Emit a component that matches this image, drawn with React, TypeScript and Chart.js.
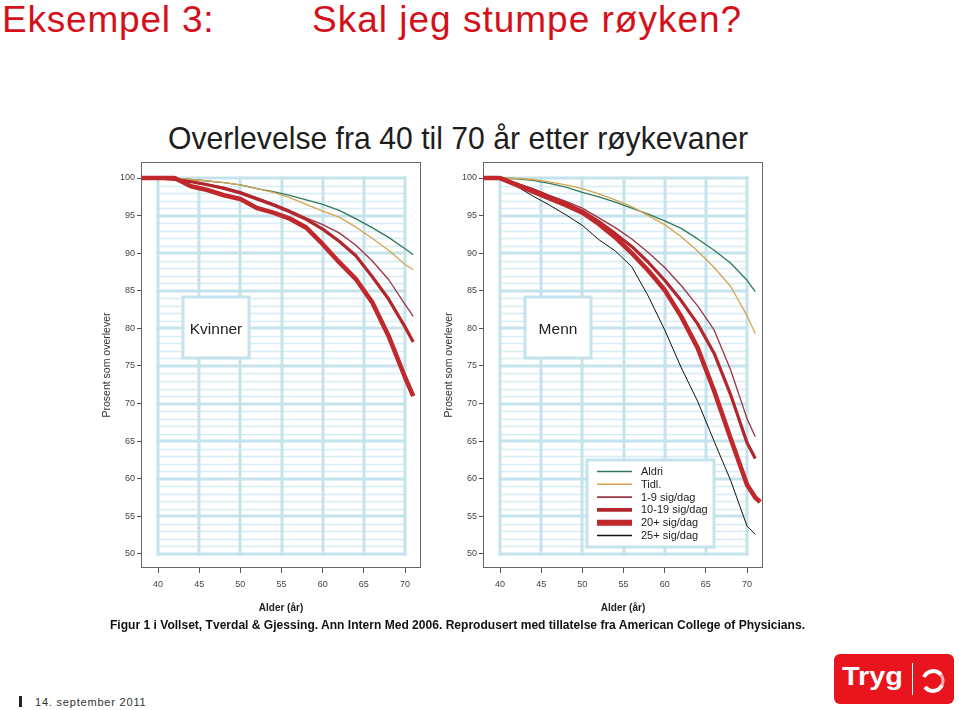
import React, { useEffect, useLayoutEffect, useRef } from "react";
import { Chart, registerables } from "chart.js";

Chart.register(...registerables);

// ---------- data ----------
const AGES = [38, 40, 42, 44, 46, 48, 50, 52, 54, 56, 58, 60, 62, 64, 66, 68, 70, 71, 71.6];
const X_TICKS = [40, 45, 50, 55, 60, 65, 70];
const Y_TICKS = [50, 55, 60, 65, 70, 75, 80, 85, 90, 95, 100];

// Kvinner (women)
const K_ALDRI = [100, 100, 99.9, 99.8, 99.6, 99.4, 99.1, 98.6, 98.2, 97.7, 97.1, 96.5, 95.7, 94.6, 93.4, 92.1, 90.6, 89.8, null];
const K_TIDL = [100, 100, 99.9, 99.8, 99.6, 99.4, 99.1, 98.6, 98.1, 97.4, 96.5, 95.6, 94.8, 93.5, 92.0, 90.4, 88.5, 87.8, null];
const K_1_9 = [100, 100, 99.9, 99.6, 99.2, 98.8, 98.2, 97.4, 96.6, 95.7, 94.7, 93.8, 92.7, 91.1, 89.0, 86.5, 83.2, 81.6, null];
const K_10_19 = [100, 100, 99.8, 99.5, 99.1, 98.6, 98.0, 97.2, 96.4, 95.5, 94.5, 93.2, 91.6, 89.7, 86.9, 83.9, 80.2, 78.2, null];
const K_20 = [100, 100, 100, 98.9, 98.4, 97.7, 97.2, 96.0, 95.4, 94.6, 93.4, 91.2, 88.8, 86.6, 83.5, 79.0, 73.5, 71.0, null];

// Menn (men)
const M_ALDRI = [100, 100, 99.9, 99.7, 99.3, 98.8, 98.1, 97.5, 96.8, 96.0, 95.2, 94.3, 93.3, 91.9, 90.4, 88.7, 86.4, 84.9, null];
const M_TIDL = [100, 100, 99.95, 99.8, 99.5, 99.1, 98.6, 97.9, 97.1, 96.2, 95.0, 93.8, 92.2, 90.3, 88.1, 85.6, 81.7, 79.3, null];
const M_1_9 = [100, 100, 99.3, 98.6, 97.7, 96.9, 96.0, 94.7, 93.4, 91.9, 90.1, 88.1, 85.7, 83.0, 79.8, 74.5, 68.0, 65.6, null];
const M_10_19 = [100, 100, 99.2, 98.4, 97.5, 96.6, 95.6, 94.2, 92.6, 90.9, 88.8, 86.4, 83.7, 80.6, 76.7, 71.2, 64.8, 62.7, null];
const M_20 = [100, 100, 99.1, 98.2, 97.3, 96.4, 95.4, 93.9, 92.1, 90.0, 87.7, 85.1, 81.6, 77.4, 71.7, 65.4, 59.2, 57.5, 56.9];
const M_25 = [100, 100, 98.9, 97.6, 96.4, 95.1, 93.7, 91.8, 90.3, 88.2, 84.3, 79.8, 74.8, 70.3, 65.0, 59.8, 53.7, 52.6, null];

const SERIES_LABELS = ["Aldri", "Tidl.", "1-9 sig/dag", "10-19 sig/dag", "20+ sig/dag", "25+ sig/dag"];
const SERIES_COLORS = ["#2f7a5c", "#d9a352", "#9a3344", "#b3262b", "#c0282b", "#111111"];
const SERIES_WIDTHS = [1.3, 1.3, 1.3, 3.2, 4.6, 1];
const LEGEND_WIDTHS = [1.6, 1.6, 1.6, 3.8, 6, 1.6];
const SERIES_ORDER = [5, 4, 3, 1, 0, 2];

const FONT = "'Liberation Sans', Arial, sans-serif";
const GRID_THICK = "#c4e3ec";
const GRID_THIN = "#d6edf3";

function makeDecor(label: string, showLegend: boolean) {
  return {
    id: "panelDecor",
    beforeDatasetsDraw(chart: any) {
      const { ctx, chartArea, scales } = chart;
      const x = scales.x;
      const y = scales.y;
      const x0 = x.getPixelForValue(X_TICKS[0]);
      const x1 = x.getPixelForValue(X_TICKS[X_TICKS.length - 1]);
      const y0 = y.getPixelForValue(Y_TICKS[Y_TICKS.length - 1]);
      const y1 = y.getPixelForValue(Y_TICKS[0]);
      ctx.save();
      ctx.strokeStyle = GRID_THIN;
      ctx.lineWidth = 1.3;
      for (let v = Y_TICKS[0]; v <= Y_TICKS[Y_TICKS.length - 1]; v++) {
        if (v % 5 === 0) continue;
        const py = Math.round(y.getPixelForValue(v)) + 0.5;
        ctx.beginPath();
        ctx.moveTo(x0, py);
        ctx.lineTo(x1, py);
        ctx.stroke();
      }
      ctx.strokeStyle = GRID_THICK;
      ctx.lineWidth = 3;
      for (const v of Y_TICKS) {
        const py = Math.round(y.getPixelForValue(v));
        ctx.beginPath();
        ctx.moveTo(x0 - 1.5, py);
        ctx.lineTo(x1 + 1.5, py);
        ctx.stroke();
      }
      for (const v of X_TICKS) {
        const px = Math.round(x.getPixelForValue(v));
        ctx.beginPath();
        ctx.moveTo(px, y0 - 1.5);
        ctx.lineTo(px, y1 + 1.5);
        ctx.stroke();
      }
      const bx = chartArea.left + 42;
      const by = chartArea.top + 135;
      const bw = 66;
      const bh = 61;
      ctx.fillStyle = "#ffffff";
      ctx.fillRect(bx, by, bw, bh);
      ctx.strokeStyle = GRID_THICK;
      ctx.lineWidth = 3;
      ctx.strokeRect(bx, by, bw, bh);
      ctx.fillStyle = "#222222";
      ctx.font = `15.5px ${FONT}`;
      ctx.textAlign = "center";
      ctx.textBaseline = "middle";
      ctx.fillText(label, bx + bw / 2, by + bh / 2 + 2);
      ctx.strokeStyle = "#666666";
      ctx.lineWidth = 1;
      ctx.strokeRect(
        Math.round(chartArea.left) + 0.5,
        Math.round(chartArea.top) + 0.5,
        Math.round(chartArea.right - chartArea.left) - 1,
        Math.round(chartArea.bottom - chartArea.top) - 1
      );
      ctx.restore();
    },
    afterDatasetsDraw(chart: any) {
      if (!showLegend) return;
      const { ctx, chartArea } = chart;
      const bx = chartArea.left + 104;
      const by = chartArea.top + 298;
      const bw = 127;
      const bh = 87;
      ctx.save();
      ctx.fillStyle = "#ffffff";
      ctx.fillRect(bx, by, bw, bh);
      ctx.strokeStyle = GRID_THICK;
      ctx.lineWidth = 3;
      ctx.strokeRect(bx, by, bw, bh);
      ctx.font = `11px ${FONT}`;
      ctx.textAlign = "left";
      ctx.textBaseline = "middle";
      SERIES_LABELS.forEach((lab, i) => {
        const ry = by + 11.5 + i * 12.8;
        ctx.strokeStyle = SERIES_COLORS[i];
        ctx.lineWidth = LEGEND_WIDTHS[i];
        ctx.beginPath();
        ctx.moveTo(bx + 10, ry);
        ctx.lineTo(bx + 45, ry);
        ctx.stroke();
        ctx.fillStyle = "#222222";
        ctx.fillText(lab, bx + 54, ry + 0.5);
      });
      ctx.restore();
    },
  };
}

function Panel({ left, label, values, legend }: { left: number; label: string; values: (Array<number | null> | null)[]; legend: boolean }) {
  const ref = useRef<HTMLCanvasElement>(null);
  useEffect(() => {
    const canvas = ref.current;
    if (!canvas) return;
    const datasets: any[] = [];
    values.forEach((vals, i) => {
      if (!vals) return;
      datasets.push({
        label: SERIES_LABELS[i],
        data: AGES.map((a, j) => ({ x: a, y: vals[j] })),
        borderColor: SERIES_COLORS[i],
        backgroundColor: SERIES_COLORS[i],
        borderWidth: SERIES_WIDTHS[i],
        pointRadius: 0,
        tension: 0,
        spanGaps: false,
        borderJoinStyle: "round",
        borderCapStyle: "butt",
        order: SERIES_ORDER[i],
      });
    });
    const tickFont = { family: FONT, size: 9 };
    const chart = new Chart(canvas, {
      type: "line",
      data: { datasets },
      options: {
        responsive: false,
        animation: false,
        devicePixelRatio: 1,
        layout: { padding: { top: 2, right: 4, left: 0, bottom: 0 } },
        plugins: { legend: { display: false }, tooltip: { enabled: false } },
        scales: {
          x: {
            type: "linear",
            min: 37.93,
            max: 71.94,
            afterBuildTicks: (s: any) => {
              s.ticks = X_TICKS.map((v) => ({ value: v }));
            },
            afterFit: (s: any) => {
              s.height = 52;
              s.paddingLeft = 0;
              s.paddingRight = 0;
            },
            grid: { drawOnChartArea: false, drawTicks: true, tickLength: 5, color: "#555555" },
            border: { display: false },
            ticks: { font: tickFont, color: "#444444", padding: 6, autoSkip: false, maxRotation: 0 },
            title: {
              display: true,
              text: "Alder (år)",
              font: { family: FONT, size: 10, weight: "bold" },
              color: "#222222",
              padding: { top: 0, bottom: 6 },
            },
          },
          y: {
            type: "linear",
            min: 48.13,
            max: 102.13,
            afterBuildTicks: (s: any) => {
              s.ticks = Y_TICKS.map((v) => ({ value: v }));
            },
            afterFit: (s: any) => {
              s.width = 46;
              s.paddingTop = 0;
              s.paddingBottom = 0;
            },
            grid: { drawOnChartArea: false, drawTicks: true, tickLength: 4, color: "#555555" },
            border: { display: false },
            ticks: { font: tickFont, color: "#444444", padding: 2, autoSkip: false },
            title: {
              display: true,
              text: "Prosent som overlever",
              font: { family: FONT, size: 10.5 },
              color: "#333333",
              padding: { top: 6, bottom: 0 },
            },
          },
        },
      },
      plugins: [makeDecor(label, legend)],
    } as any);
    return () => chart.destroy();
  }, []);
  return (
    <canvas
      ref={ref}
      width={330}
      height={460}
      style={{ position: "absolute", left, top: 160, width: 330, height: 460 }}
    />
  );
}

function FitText({ text, left, top, width, style }: { text: string; left: number; top: number; width: number; style: any }) {
  const ref = useRef<HTMLSpanElement>(null);
  useLayoutEffect(() => {
    const el = ref.current;
    if (!el) return;
    el.style.transform = "none";
    const w = el.getBoundingClientRect().width;
    if (w > 0) el.style.transform = `scaleX(${width / w})`;
  }, [text, width]);
  return (
    <span
      ref={ref}
      style={{ position: "absolute", left, top, whiteSpace: "nowrap", transformOrigin: "0 0", ...style }}
    >
      {text}
    </span>
  );
}

export default function App() {
  const red = "#d4111b";
  return (
    <div
      style={{
        position: "absolute",
        left: 0,
        top: 0,
        width: 959,
        height: 710,
        background: "#ffffff",
        overflow: "hidden",
        fontFamily: FONT,
      }}
    >
      <div style={{ position: "absolute", left: 2, top: 1, fontSize: 37, lineHeight: "37px", letterSpacing: 0.8, color: red, whiteSpace: "nowrap" }}>
        Eksempel 3:
      </div>
      <div style={{ position: "absolute", left: 312, top: 1, fontSize: 37, lineHeight: "37px", letterSpacing: 1, color: red, whiteSpace: "nowrap" }}>
        Skal jeg stumpe røyken?
      </div>

      <FitText
        text="Overlevelse fra 40 til 70 år etter røykevaner"
        left={168}
        top={122}
        width={580}
        style={{ fontSize: 32, lineHeight: "32px", color: "#1e1e1e" }}
      />

      <Panel left={95} label="Kvinner" values={[K_ALDRI, K_TIDL, K_1_9, K_10_19, K_20, null]} legend={false} />
      <Panel left={437} label="Menn" values={[M_ALDRI, M_TIDL, M_1_9, M_10_19, M_20, M_25]} legend={true} />

      <FitText
        text="Figur 1 i Vollset, Tverdal & Gjessing. Ann Intern Med 2006. Reprodusert med tillatelse fra American College of Physicians."
        left={110}
        top={618}
        width={695}
        style={{ fontSize: 13, lineHeight: "13px", color: "#111111", fontFamily: "'Liberation Sans Narrow', 'Liberation Sans', Arial, sans-serif", fontWeight: "bold" }}
      />

      <div style={{ position: "absolute", left: 19, top: 696, width: 3, height: 11, background: "#222222" }} />
      <div style={{ position: "absolute", left: 35, top: 697, fontSize: 11, lineHeight: "11px", letterSpacing: 0.8, color: "#333333", whiteSpace: "nowrap" }}>
        14. september 2011
      </div>

      <div style={{ position: "absolute", left: 834, top: 654, width: 120, height: 50, background: "#e8141e", borderRadius: 6 }}>
        <FitText
          text="Tryg"
          left={8}
          top={10}
          width={61}
          style={{ fontSize: 25, lineHeight: "25px", color: "#ffffff", fontWeight: "bold" }}
        />
        <div style={{ position: "absolute", left: 78, top: 9, width: 1, height: 32, background: "#ffffff" }} />
        <svg width={30} height={30} style={{ position: "absolute", left: 84, top: 12 }} viewBox="0 0 30 30">
          <path d="M 6 11 A 10 10 0 0 1 23 9" stroke="#ffffff" strokeWidth={4} fill="none" />
          <path d="M 24 19 A 10 10 0 0 1 7 21" stroke="#ffffff" strokeWidth={4} fill="none" />
          <path d="M 23 9 A 10 10 0 0 1 24 19" stroke="#f7b0b0" strokeWidth={3} fill="none" />
        </svg>
      </div>
    </div>
  );
}
